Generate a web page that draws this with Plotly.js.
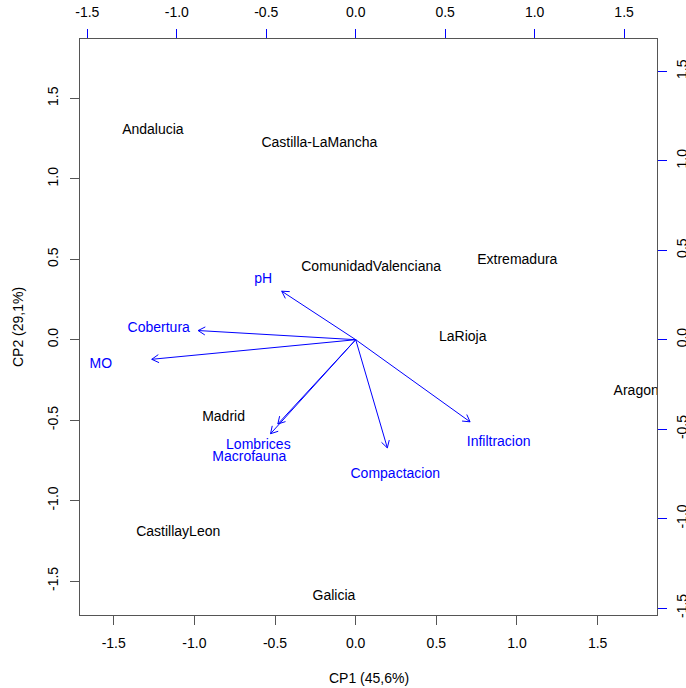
<!DOCTYPE html>
<html>
<head>
<meta charset="utf-8">
<script src="https://cdn.plot.ly/plotly-3.0.1.min.js"></script>
<style>
  html, body { margin: 0; padding: 0; background: #ffffff; }
  #chart { width: 686px; height: 688px; }
</style>
</head>
<body>
<div id="chart"></div>
<script>
// Principal component scores of the regions (CP1, CP2)
const regions = ['Andalucia', 'Aragon', 'CastillayLeon', 'Castilla-LaMancha',
                 'ComunidadValenciana', 'Extremadura', 'Galicia', 'LaRioja', 'Madrid'];
const regionCP1 = [-1.257, 1.739, -1.100, -0.225, 0.096, 1.002, -0.135, 0.664, -0.819];
const regionCP2 = [1.300, -0.322, -1.200, 1.218, 0.446, 0.492, -1.598, 0.012, -0.481];

// Variable loadings (drawn on the top / right axes)
const variables = ['pH', 'Cobertura', 'MO', 'Lombrices', 'Macrofauna', 'Compactacion', 'Infiltracion'];
const varCP1 = [-0.517, -1.101, -1.425, -0.544, -0.595, 0.221, 0.799];
const varCP2 = [0.339, 0.064, -0.137, -0.589, -0.657, -0.756, -0.574];

// Axis ticks
const tickVals = [-1.5, -1.0, -0.5, 0.0, 0.5, 1.0, 1.5];
const tickText = ['-1.5', '-1.0', '-0.5', '0.0', '0.5', '1.0', '1.5'];

const FONT = 'Liberation Sans, Arial, Helvetica, sans-serif';
const BLUE = '#0000ff';
const AXIS_GREY = '#555555';

// Arrows stop short of their labels; heads are open V shapes
const arrowShrink = 0.8;
const headLen = 0.045;             // in loading units (equal scale on x2/y2)
const headAngle = 30 * Math.PI / 180;

const ax = [], ay = [];
for (let i = 0; i < variables.length; i++) {
  const tx = varCP1[i] * arrowShrink;
  const ty = varCP2[i] * arrowShrink;
  ax.push(0, tx, null);
  ay.push(0, ty, null);
  const len = Math.hypot(tx, ty);
  const dx = -tx / len, dy = -ty / len;
  for (const s of [1, -1]) {
    const c = Math.cos(s * headAngle), sn = Math.sin(s * headAngle);
    const bx = dx * c - dy * sn, by = dx * sn + dy * c;
    ax.push(tx, tx + bx * headLen, null);
    ay.push(ty, ty + by * headLen, null);
  }
}

const traces = [
  {
    type: 'scatter', mode: 'text',
    x: regionCP1, y: regionCP2, text: regions,
    textposition: 'middle center',
    textfont: { family: FONT, size: 14, color: '#000000' },
    xaxis: 'x', yaxis: 'y', hoverinfo: 'skip', cliponaxis: true
  },
  {
    type: 'scatter', mode: 'lines',
    x: ax, y: ay,
    line: { color: BLUE, width: 1 },
    xaxis: 'x2', yaxis: 'y2', hoverinfo: 'skip'
  },
  {
    type: 'scatter', mode: 'text',
    x: varCP1, y: varCP2, text: variables,
    textposition: 'middle center',
    textfont: { family: FONT, size: 14, color: BLUE },
    xaxis: 'x2', yaxis: 'y2', hoverinfo: 'skip', cliponaxis: true
  }
];

const baseAxis = {
  showgrid: false, zeroline: false,
  showline: true, linecolor: AXIS_GREY, linewidth: 1,
  ticks: 'outside', ticklen: 9, tickwidth: 1,
  tickvals: tickVals, ticktext: tickText,
  tickfont: { family: FONT, size: 14, color: '#000000' },
  fixedrange: true
};

const layout = {
  width: 686, height: 688,
  margin: { l: 80, r: 29, t: 39, b: 73, pad: 0 },
  paper_bgcolor: '#ffffff', plot_bgcolor: '#ffffff',
  showlegend: false,
  font: { family: FONT, size: 14, color: '#000000' },
  xaxis: Object.assign({}, baseAxis, {
    range: [-1.709, 1.868], tickcolor: AXIS_GREY, ticklabelstandoff: 6
  }),
  yaxis: Object.assign({}, baseAxis, {
    range: [-1.711, 1.869], tickcolor: AXIS_GREY, tickangle: -90, ticklabelstandoff: 6
  }),
  xaxis2: Object.assign({}, baseAxis, {
    overlaying: 'x', side: 'top', anchor: 'y2',
    range: [-1.541, 1.684], tickcolor: BLUE, ticklabelstandoff: 6
  }),
  yaxis2: Object.assign({}, baseAxis, {
    overlaying: 'y', side: 'right', anchor: 'x2',
    range: [-1.539, 1.681], tickcolor: BLUE, tickangle: -90, ticklabelstandoff: 3
  }),
  annotations: [
    {
      text: 'CP1 (45,6%)', xref: 'paper', yref: 'paper',
      x: 0.5, y: 0, xanchor: 'center', yanchor: 'middle', yshift: -63,
      showarrow: false, font: { family: FONT, size: 14, color: '#000000' }
    },
    {
      text: 'CP2 (29,1%)', xref: 'paper', yref: 'paper',
      x: 0, y: 0.5, xanchor: 'center', yanchor: 'middle', xshift: -62,
      textangle: -90,
      showarrow: false, font: { family: FONT, size: 14, color: '#000000' }
    }
  ]
};

Plotly.newPlot('chart', traces, layout, { displayModeBar: false, staticPlot: true });
</script>
</body>
</html>
